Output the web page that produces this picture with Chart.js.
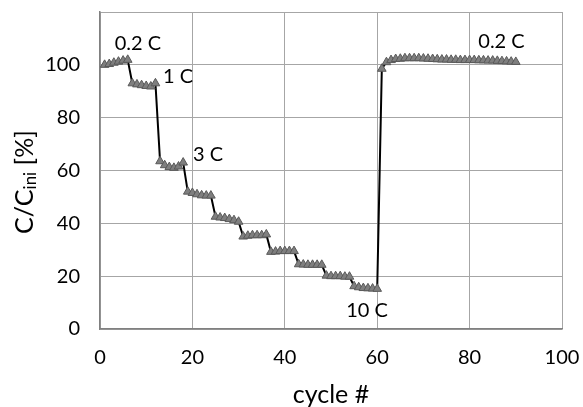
<!DOCTYPE html>
<html lang="en">
<head>
    <meta charset="UTF-8">
    <title>C/Cini vs cycle</title>
    <script src="https://cdn.jsdelivr.net/npm/chart.js"></script>
    <style>
        html, body { margin: 0; padding: 0; background: #fff; }
        #wrap { width: 583px; height: 407px; position: relative; }
    </style>
</head>
<body>
    <div id="wrap"><canvas id="chart"></canvas></div>

    <script>
        // cycle numbers
        const cycles = [
            1, 2, 3, 4, 5, 6, 7, 8, 9, 10, 11, 12, 13, 14, 15, 16, 17, 18,
            19, 20, 21, 22, 23, 24, 25, 26, 27, 28, 29, 30, 31, 32, 33, 34, 35, 36,
            37, 38, 39, 40, 41, 42, 43, 44, 45, 46, 47, 48, 49, 50, 51, 52, 53, 54,
            55, 56, 57, 58, 59, 60, 61, 62, 63, 64, 65, 66, 67, 68, 69, 70, 71, 72,
            73, 74, 75, 76, 77, 78, 79, 80, 81, 82, 83, 84, 85, 86, 87, 88, 89, 90
        ];

        // capacity retention C/Cini in %
        const capacity = [
            100.0, 100.3, 100.8, 101.2, 101.6, 101.9,   // 0.2 C
            93.0, 92.6, 92.3, 92.0, 91.8, 93.0,         // 1 C
            63.5, 62.0, 61.3, 61.0, 61.5, 63.0,         // 3 C
            52.0, 51.5, 51.0, 50.6, 50.5, 50.5,
            42.5, 42.2, 42.0, 41.6, 41.2, 40.6,
            35.0, 35.3, 35.5, 35.5, 35.5, 35.8,
            29.2, 29.3, 29.5, 29.5, 29.5, 29.5,
            24.5, 24.4, 24.3, 24.3, 24.3, 24.3,
            20.2, 20.0, 20.0, 20.0, 19.8, 19.8,
            16.2, 15.8, 15.5, 15.4, 15.3, 15.2,         // 10 C
            98.5, 101.0, 101.8, 102.2, 102.3, 102.5,    // 0.2 C
            102.5, 102.5, 102.5, 102.4, 102.3, 102.2,
            102.1, 102.0, 102.0, 101.9, 101.9, 101.8,
            101.8, 101.8, 101.8, 101.7, 101.7, 101.6,
            101.6, 101.5, 101.4, 101.3, 101.2, 101.1
        ];

        // rate labels, placed in data coordinates
        const rateLabels = ['0.2 C', '1 C', '3 C', '10 C', '0.2 C'];
        const rateX = [8.2, 16.9, 23.4, 57.8, 86.9];
        const rateY = [107.9, 95.5, 66.2, 7.1, 108.8];

        const xTicks = [0, 20, 40, 60, 80, 100];
        const yTicks = [0, 20, 40, 60, 80, 100, 120];

        const FONT = 'Lato, "Open Sans", sans-serif';

        // axis titles + rate annotations
        const textPlugin = {
            id: 'texts',
            afterDraw(chart) {
                const ctx = chart.ctx;
                const area = chart.chartArea;
                const xs = chart.scales.x, ys = chart.scales.y;
                ctx.save();
                ctx.fillStyle = '#000';
                ctx.textAlign = 'center';
                ctx.textBaseline = 'middle';
                ctx.font = '20px ' + FONT;
                rateLabels.forEach((t, i) => {
                    ctx.fillText(t, xs.getPixelForValue(rateX[i]), ys.getPixelForValue(rateY[i]));
                });

                // x title
                ctx.font = '25px ' + FONT;
                ctx.fillText('cycle #', (area.left + area.right) / 2, 395);

                // y title with subscript
                ctx.translate(25, 182);
                ctx.rotate(-Math.PI / 2);
                ctx.textAlign = 'left';
                const p1 = 'C/C', p2 = 'ini', p3 = ' [%]';
                ctx.font = '25px ' + FONT;
                const w1 = ctx.measureText(p1).width;
                const w3 = ctx.measureText(p3).width;
                ctx.font = '17px ' + FONT;
                const w2 = ctx.measureText(p2).width;
                let x0 = -(w1 + w2 + w3) / 2;
                ctx.font = '25px ' + FONT;
                ctx.fillText(p1, x0, 0);
                ctx.font = '17px ' + FONT;
                ctx.fillText(p2, x0 + w1, 6);
                ctx.font = '25px ' + FONT;
                ctx.fillText(p3, x0 + w1 + w2, 0);
                ctx.restore();
            }
        };

        new Chart(document.getElementById('chart'), {
            type: 'line',
            data: {
                datasets: [{
                    data: cycles.map((c, i) => ({ x: c, y: capacity[i] })),
                    borderColor: '#000',
                    borderWidth: 2,
                    pointStyle: 'triangle',
                    pointRadius: 5,
                    pointBackgroundColor: '#7f7f7f',
                    pointBorderColor: '#595959',
                    pointBorderWidth: 1,
                    tension: 0,
                    fill: false
                }]
            },
            options: {
                responsive: true,
                maintainAspectRatio: false,
                animation: false,
                layout: { padding: { top: 12, right: 21, left: 0, bottom: 0 } },
                plugins: { legend: { display: false }, tooltip: { enabled: false } },
                scales: {
                    x: {
                        type: 'linear',
                        min: 0, max: 100,
                        afterBuildTicks: s => { s.ticks = xTicks.map(v => ({ value: v })); },
                        afterFit: s => { s.height = 78; s.paddingLeft = 0; s.paddingRight = 0; },
                        ticks: { color: '#000', font: { family: FONT, size: 20 }, padding: 17, maxRotation: 0 },
                        grid: { color: '#a6a6a6', lineWidth: 1, drawTicks: false },
                        border: { color: '#808080', width: 1.5 }
                    },
                    y: {
                        min: 0, max: 120,
                        afterBuildTicks: s => { s.ticks = yTicks.map(v => ({ value: v })); },
                        afterFit: s => { s.width = 100; s.paddingTop = 0; s.paddingBottom = 0; },
                        ticks: {
                            color: '#000', font: { family: FONT, size: 20 }, padding: 20,
                            callback: v => (v === 120 ? '' : v)
                        },
                        grid: { color: '#a6a6a6', lineWidth: 1, drawTicks: false },
                        border: { color: '#808080', width: 1.5 }
                    }
                }
            },
            plugins: [textPlugin]
        });
    </script>
</body>
</html>
